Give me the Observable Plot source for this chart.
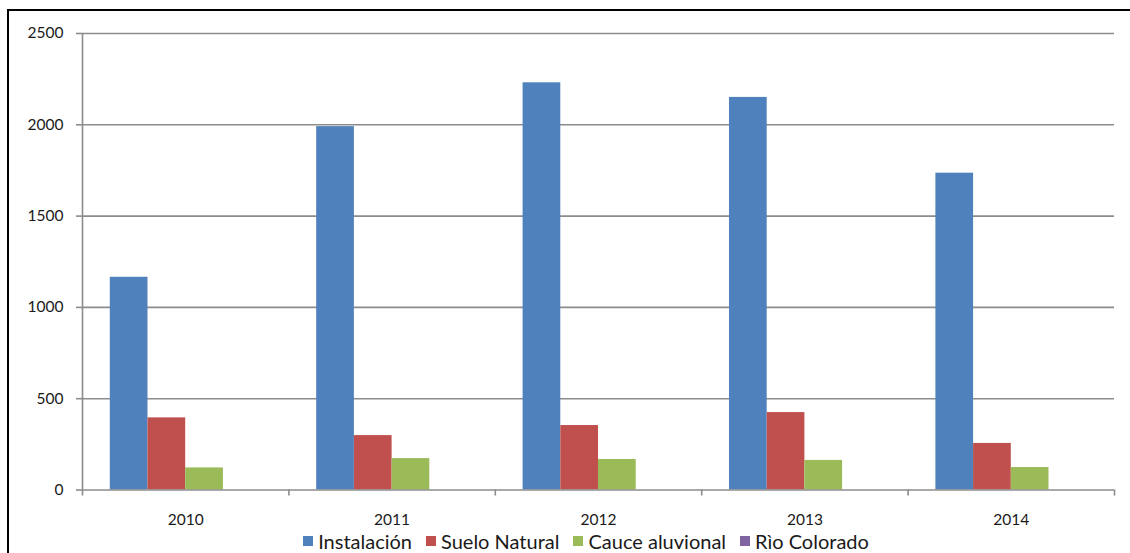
<!DOCTYPE html>
<html>
<head>
<meta charset="utf-8">
<script src="https://cdn.jsdelivr.net/npm/d3@7"></script>
<script src="https://cdn.jsdelivr.net/npm/@observablehq/plot@0.6"></script>
<style>
  html, body { margin: 0; padding: 0; background: #fff; }
  #page { position: relative; width: 1130px; height: 553px; overflow: hidden; font-family: Lato, "Open Sans", sans-serif; }
  #frame { position: absolute; left: 7px; top: 9px; width: 1200px; height: 600px; border-left: 2px solid #000; border-top: 2px solid #000; box-sizing: border-box; }
  #chart { position: absolute; left: 0; top: 0; }
  #legend { position: absolute; left: 0; top: 530px; width: 1130px; height: 22px; display: flex; justify-content: center; align-items: center; padding-left: 42px; box-sizing: border-box; font-size: 20px; color: #1a1a1a; gap: 14px; }
  #legend .item { display: flex; align-items: center; gap: 5px; white-space: nowrap; }
  #legend .sw { width: 10px; height: 10px; display: inline-block; }
</style>
</head>
<body>
<div id="page">
  <div id="frame"></div>
  <div id="chart"></div>
  <div id="legend"></div>
</div>
<script>
// Yearly counts by category
const years = [2010, 2011, 2012, 2013, 2014];
const series = ["Instalación", "Suelo Natural", "Cauce aluvional", "Rìo Colorado"];
const instalacion = [1165, 1990, 2230, 2150, 1735];
const sueloNatural = [395, 298, 353, 424, 255];
const cauceAluvional = [121, 172, 167, 162, 123];
const rioColorado = [0, 0, 0, 0, 0];
const yTicks = [0, 500, 1000, 1500, 2000, 2500];
const colors = ["#4F81BD", "#C0504D", "#9BBB59", "#8064A2"];

const seriesValues = [instalacion, sueloNatural, cauceAluvional, rioColorado];
const rows = years.flatMap((year, j) =>
  series.map((name, i) => ({ year, series: name, i, value: seriesValues[i][j] }))
);

// each year occupies one unit on x; the four bars sit centred in it
const barW = 0.1827;
const groupPad = (1 - series.length * barW) / 2;
const left = d => d.year - 0.5 + groupPad + d.i * barW;
const bounds = years.map(y => y - 0.5).concat([years[years.length - 1] + 0.5]);

const gridColor = "#8c8c8c";

const chart = Plot.plot({
  width: 1130,
  height: 528,
  marginLeft: 82,
  marginRight: 16,
  marginTop: 33,
  marginBottom: 38.5,
  style: { fontFamily: "Lato, 'Open Sans', sans-serif", fontSize: "15.5px", color: "#1a1a1a", background: "transparent" },
  x: { type: "linear", domain: [bounds[0], bounds[bounds.length - 1]] },
  y: { domain: [0, 2500] },
  color: { domain: series, range: colors },
  marks: [
    Plot.ruleY(yTicks.filter(t => t > 0), { stroke: gridColor, strokeWidth: 1.6 }),
    Plot.rectY(rows, { x1: left, x2: d => left(d) + barW, y1: 0, y2: "value", fill: "series" }),
    Plot.ruleY([0], { stroke: gridColor, strokeWidth: 1.6 }),
    Plot.ruleX([bounds[0]], { stroke: gridColor, strokeWidth: 1.6 }),
    Plot.axisY({ ticks: yTicks, tickFormat: d => String(d), tickSize: 6, tickPadding: 13, stroke: gridColor, strokeWidth: 1.6, fill: "#1a1a1a", label: null }),
    Plot.axisX({ ticks: bounds, tickFormat: () => "", tickSize: 6, stroke: gridColor, strokeWidth: 1.6, label: null }),
    Plot.axisX({ ticks: years, tickFormat: d => String(d), tickSize: 0, tickPadding: 24, fill: "#1a1a1a", label: null })
  ]
});
document.getElementById("chart").appendChild(chart);

// legend below the chart
const legend = document.getElementById("legend");
series.forEach((name, i) => {
  const item = document.createElement("span");
  item.className = "item";
  const sw = document.createElement("span");
  sw.className = "sw";
  sw.style.background = colors[i];
  const label = document.createElement("span");
  label.textContent = name;
  item.appendChild(sw);
  item.appendChild(label);
  legend.appendChild(item);
});
</script>
</body>
</html>
